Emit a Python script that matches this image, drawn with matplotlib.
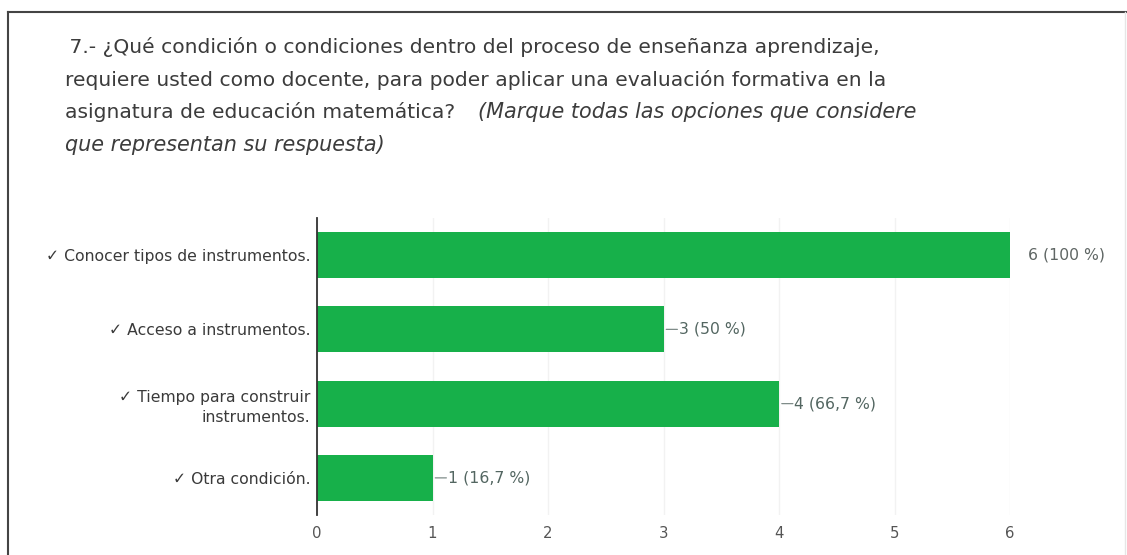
import matplotlib
matplotlib.use("Agg")
import matplotlib.pyplot as plt
from matplotlib.lines import Line2D

categories = ["✓ Conocer tipos de instrumentos.",
              "✓ Acceso a instrumentos.",
              "✓ Tiempo para construir\ninstrumentos.",
              "✓ Otra condición."]
values = [6, 3, 4, 1]
value_labels = ["6 (100 %)", "3 (50 %)", "4 (66,7 %)", "1 (16,7 %)"]
xticks = [0, 1, 2, 3, 4, 5, 6]

title_lines = [" 7.- ¿Qué condición o condiciones dentro del proceso de enseñanza aprendizaje,",
               "requiere usted como docente, para poder aplicar una evaluación formativa en la",
               "asignatura de educación matemática?  "]
title_italic_3 = "(Marque todas las opciones que considere"
title_italic_4 = "que representan su respuesta)"

W, H = 1127, 555
fig = plt.figure(figsize=(W / 100, H / 100), dpi=100)
fig.patch.set_facecolor("white")
FAM = ["DejaVu Sans"]


def fit_size(text, target_px, style="normal", base=12):
    t = fig.text(0, 0, text, fontsize=base, family=FAM, style=style)
    fig.canvas.draw()
    w = t.get_window_extent().width
    t.remove()
    return base * target_px / w


ax = fig.add_axes([317 / W, 1 - 515 / H, (1010 - 317) / W, (515 - 218) / H])
green = "#17b04a"
ypos = list(range(len(values)))
ax.barh(ypos, values, height=0.62, color=green, zorder=3)
ax.set_xlim(0, 6)
ax.set_ylim(3.5, -0.5)

lab_size = fit_size(categories[0], 262)
val_size = fit_size(value_labels[0], 76)

ax.set_xticks(xticks)
ax.set_xticklabels([str(t) for t in xticks], fontsize=val_size * 0.95, color="#555555",
                   family=FAM)
ax.set_yticks(ypos)
ax.set_yticklabels(categories, fontsize=lab_size, color="#3a3a3a",
                   family=FAM, linespacing=1.4)
ax.tick_params(axis="y", length=0, pad=5)
ax.tick_params(axis="x", length=0, pad=8)
for s in ["top", "right", "bottom"]:
    ax.spines[s].set_visible(False)
ax.spines["left"].set_color("#333333")
ax.spines["left"].set_linewidth(1.3)
ax.spines["left"].set_zorder(4)
ax.grid(axis="x", color="#f2f2f2", linewidth=1, zorder=0)
ax.set_axisbelow(True)

for i, (v, lab) in enumerate(zip(values, value_labels)):
    if v >= 6:
        ax.annotate(lab, xy=(v, i), xytext=(13, 0), textcoords="offset points",
                    va="center", ha="left", fontsize=val_size, color="#5f6664",
                    family=FAM, annotation_clip=False)
    else:
        ax.annotate("", xy=(v, i), xytext=(10, 0), textcoords="offset points",
                    arrowprops=dict(arrowstyle="-", color="#7f8c89", lw=0.9,
                                    shrinkA=0, shrinkB=2))
        ax.annotate(lab, xy=(v, i), xytext=(11, 0), textcoords="offset points",
                    va="center", ha="left", fontsize=val_size, color="#536661",
                    family=FAM)

tsize = fit_size(title_lines[1], 815)
isize = 0.5 * (tsize + fit_size(title_italic_3, 447, style="italic"))
tfont = dict(color="#3c3c3c", family=FAM)
ys = [47, 80, 112]
xs = [63, 65, 65]
for ln, x, y in zip(title_lines, xs, ys):
    fig.text(x / W, 1 - y / H, ln, va="center", ha="left", fontsize=tsize, **tfont)
t3 = fig.texts[-1]
fig.canvas.draw()
bb = t3.get_window_extent()
fig.text(max(bb.x1, 478) / W, 1 - 112 / H, title_italic_3, va="center", ha="left",
         style="italic", fontsize=isize, **tfont)
fig.text(65 / W, 1 - 145 / H, title_italic_4, va="center", ha="left",
         style="italic", fontsize=isize, **tfont)

# frame border
fig.add_artist(Line2D([8 / W, 8 / W], [0, 1 - 12 / H], transform=fig.transFigure,
                      color="#444444", lw=1.5))
fig.add_artist(Line2D([8 / W, 1], [1 - 12 / H, 1 - 12 / H], transform=fig.transFigure,
                      color="#444444", lw=1.5))
fig.add_artist(Line2D([1125 / W, 1125 / W], [0, 1 - 12 / H], transform=fig.transFigure,
                      color="#e6e6e6", lw=1))

fig.savefig("out.png", dpi=100, facecolor="white")
